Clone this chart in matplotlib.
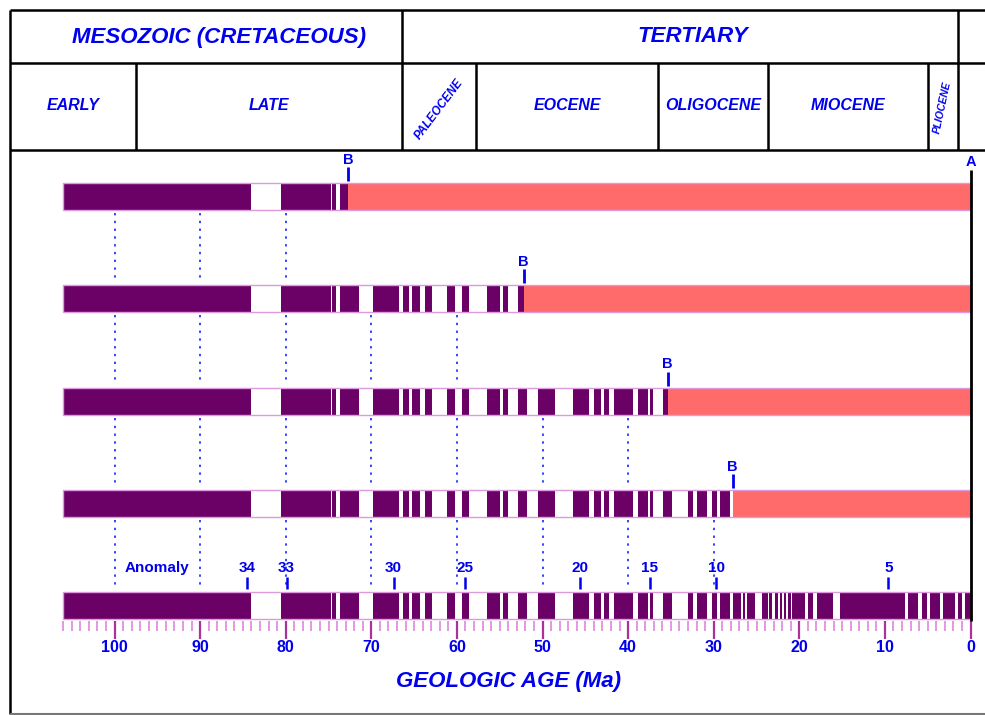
import numpy as np
import matplotlib.pyplot as plt
from matplotlib.patches import Rectangle

# reversed polarity intervals (white), Ma: older / younger edge
rev_old = [84.0, 74.7, 74.1, 71.4, 66.8, 65.6, 64.3, 62.9, 60.2, 58.6, 55.0, 54.0,
           51.8, 48.5, 44.6, 43.2, 42.2, 39.4, 37.7, 37.1, 34.9, 32.4, 30.8, 29.6,
           28.1, 26.8, 26.3, 25.2, 23.7, 23.2, 22.5, 22.0, 21.5, 21.0, 19.3, 18.4,
           16.1, 7.65, 6.1, 5.1, 3.6, 1.8, 1.0]
rev_young = [80.5, 74.55, 73.7, 69.8, 66.3, 65.2, 63.7, 61.2, 59.4, 56.5, 54.6, 52.9,
             50.5, 46.4, 44.0, 42.8, 41.7, 38.9, 37.4, 35.9, 33.0, 32.0, 30.2, 29.3,
             27.8, 26.6, 26.1, 24.4, 23.5, 22.8, 22.3, 21.8, 21.3, 20.8, 19.0, 17.9,
             15.2, 7.3, 5.7, 4.7, 3.2, 1.5, 0.65]

ridge_age = [72.7, 52.2, 35.4, 27.8, 0.0]   # "B" position of each row
oldest = 106.0

anomaly_nums = ["34", "33", "30", "25", "20", "15", "10", "5"]
anomaly_ages = [84.5, 79.9, 67.4, 59.0, 45.6, 37.5, 29.7, 9.6]

eras = ["MESOZOIC (CRETACEOUS)", "TERTIARY", ""]
era_edges = [112.2, 66.4, 1.5, -1.7]
epochs = ["EARLY", "LATE", "PALEOCENE", "EOCENE", "OLIGOCENE", "MIOCENE", "PLIOCENE", ""]
epoch_edges = [112.2, 97.5, 66.4, 57.8, 36.5, 23.7, 5.0, 1.5, -1.7]

PURPLE = "#6b0066"
SALMON = "#ff6b6b"
BLUE = "#0000ee"
EDGE = "#dd99dd"

plt.rcParams["font.family"] = ["Liberation Sans", "DejaVu Sans"]

fig = plt.figure(figsize=(9.85, 7.15), dpi=100)
ax = fig.add_axes([0, 0, 1, 1])
ax.set_xlim(113.38, -1.69)
ax.set_ylim(715, 0)

# frame and header grid
left, right = era_edges[0], era_edges[-1]
ax.hlines([10, 63, 150], left, right, color="black", lw=1.8)
ax.vlines(left, 10, 714, color="black", lw=1.8)
ax.hlines(714, left, right, color="#777777", lw=1.5)
ax.vlines(era_edges[1:-1], 10, 63, color="black", lw=1.8)
ax.vlines(epoch_edges[1:-1], 63, 150, color="black", lw=1.8)

hdr = dict(color=BLUE, fontweight="bold", fontstyle="italic", ha="center", va="center")
for name, a, b in zip(eras, era_edges[:-1], era_edges[1:]):
    # labels sit a little right of the box centre in the original
    ax.text((a + b) / 2 - 1.5, 37, name, fontsize=16, **hdr)
for name, a, b in zip(epochs, epoch_edges[:-1], epoch_edges[1:]):
    if name == "PALEOCENE":
        ax.text((a + b) / 2, 109, name, fontsize=8.5, rotation=53, **hdr)
    elif name == "PLIOCENE":
        ax.text((a + b) / 2, 107, name, fontsize=7.5, rotation=78, **hdr)
    else:
        ax.text((a + b) / 2, 106, name, fontsize=11.5, **hdr)

# magnetic stripe rows
row_top = 183
row_step = 102.25
bar_h = 27
for i, ridge in enumerate(ridge_age):
    top = row_top + i * row_step
    yc = top + bar_h / 2
    ax.barh(yc, oldest - ridge, left=ridge, height=bar_h, color=PURPLE)
    if ridge > 0:
        ax.barh(yc, ridge, left=0, height=bar_h, color=SALMON)
    for o, yg in zip(rev_old, rev_young):
        if yg >= ridge:
            ax.barh(yc, o - yg, left=yg, height=bar_h, color="white")
    ax.add_patch(Rectangle((0, top), oldest, bar_h, fill=False, edgecolor=EDGE, lw=1))
    if ridge > 0:
        ax.text(ridge, top - 23, "B", color=BLUE, fontsize=10.5, fontweight="bold",
                ha="center", va="center")
        ax.vlines(ridge, top - 16, top - 2, color=BLUE, lw=2)
        # dotted age guides down to next row
        guides = np.arange(100, ridge, -10)
        ax.vlines(guides, top + bar_h + 3, top + row_step - 3, color="#3344ff",
                  lw=1.4, linestyles=(0, (1.2, 2.8)))

# ridge axis A
ax.text(0, 162, "A", color=BLUE, fontsize=10.5, fontweight="bold", ha="center", va="center")
ax.vlines(0, 170, 621, color="black", lw=2)

# anomaly numbers
ax.text(95.0, 568, "Anomaly", color=BLUE, fontsize=11, fontweight="bold",
        ha="center", va="center")
for num, age in zip(anomaly_nums, anomaly_ages):
    ax.text(age, 568, num, color=BLUE, fontsize=11, fontweight="bold",
            ha="center", va="center")
    ax.vlines(age, 577, 589, color=BLUE, lw=1.8)

# age axis
for s in ["top", "left", "right"]:
    ax.spines[s].set_visible(False)
ax.spines["bottom"].set_position(("data", 621))
ax.spines["bottom"].set_visible(False)
ax.set_yticks([])
ax.set_xticks(np.arange(0, 101, 10))
ax.set_xticks(np.arange(0, 107, 1), minor=True)
ax.tick_params(axis="x", which="major", direction="out", length=13, width=1.6,
               color="#aa3399", labelcolor=BLUE, labelsize=11.5, pad=0.5)
ax.tick_params(axis="x", which="minor", direction="out", length=7, width=1.2,
               color="#dd88dd")
for lbl in ax.get_xticklabels():
    lbl.set_fontweight("bold")

ax.text(54.0, 681, "GEOLOGIC AGE (Ma)", color=BLUE, fontsize=16, fontweight="bold",
        fontstyle="italic", ha="center", va="center")

fig.savefig("out.png", dpi=100)
